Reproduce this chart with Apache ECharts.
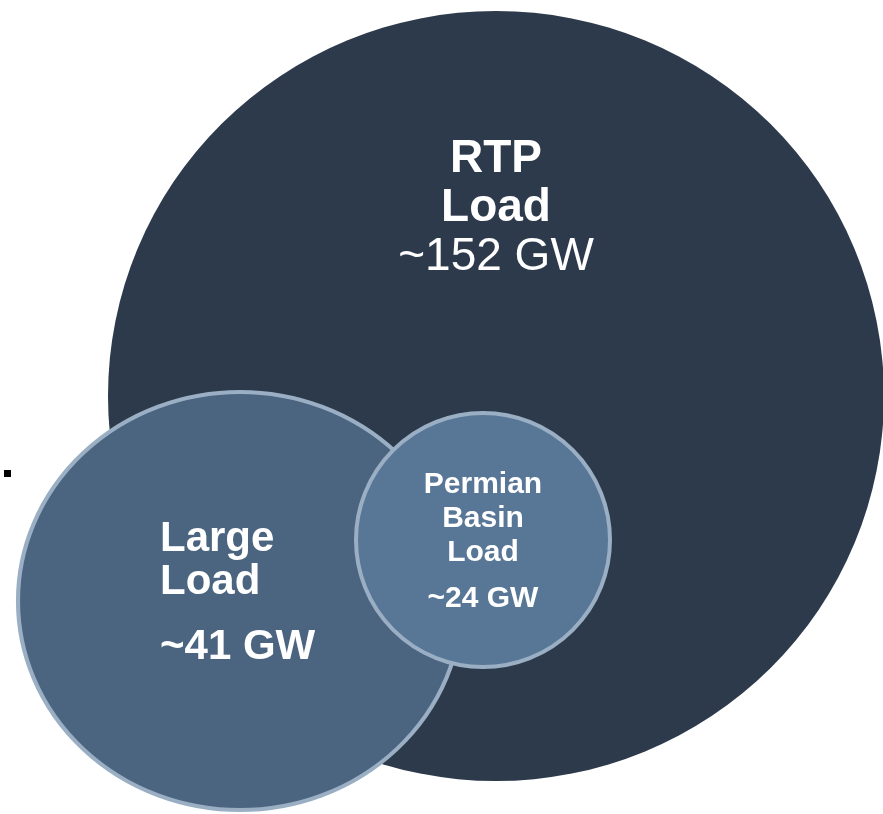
<!DOCTYPE html>
<html>
<head>
<meta charset="utf-8">
<script src="https://cdn.jsdelivr.net/npm/echarts@6/dist/echarts.min.js"></script>
<style>
html,body{margin:0;padding:0;background:#ffffff;}
#chart{width:883px;height:814px;}
</style>
</head>
<body>
<div id="chart"></div>
<script>
// ---- data ----
const names = ['RTP Load', 'Large Load', 'Permian Basin Load'];
const values = [152, 41, 24];
const unit = 'GW';

// ---- layout (pixel space of the 883x814 canvas) ----
const layout = {
  'RTP Load':           { cx: 496, cy: 396, size: [776, 770], fill: '#2c3a4b', border: 0 },
  'Large Load':         { cx: 240, cy: 601, size: [444, 418], fill: '#4b6580', border: 4 },
  'Permian Basin Load': { cx: 483, cy: 540, size: [254, 254], fill: '#587696', border: 4 }
};
const borderColor = '#9aaec4';
const FONT = '"Liberation Sans", Arial, Helvetica, sans-serif';

function labelFor(i) {
  const v = '~' + values[i] + ' ' + unit;
  if (i === 0) {
    return {
      show: true, position: 'inside', offset: [0, -188], align: 'center',
      formatter: '{b|RTP}\n{b|Load}\n{n|' + v + '}',
      rich: {
        b: { fontFamily: FONT, fontSize: 46, fontWeight: 'bold', color: '#fff', lineHeight: 49, align: 'center' },
        n: { fontFamily: FONT, fontSize: 46, color: '#fff', lineHeight: 49, align: 'center' }
      }
    };
  }
  if (i === 1) {
    return {
      show: true, position: 'inside', offset: [-80, -8], align: 'left',
      formatter: '{b|Large}\n{b|Load}\n{s| }\n{b|' + v + '}',
      rich: {
        b: { fontFamily: FONT, fontSize: 42, fontWeight: 'bold', color: '#fff', lineHeight: 43, align: 'left' },
        s: { fontSize: 10, lineHeight: 22 }
      }
    };
  }
  return {
    show: true, position: 'inside', offset: [0, 2], align: 'center',
    formatter: '{b|Permian}\n{b|Basin}\n{b|Load}\n{s| }\n{b|' + v + '}',
    rich: {
      b: { fontFamily: FONT, fontSize: 30, fontWeight: 'bold', color: '#fff', lineHeight: 34, align: 'center' },
      s: { fontSize: 8, lineHeight: 12 }
    }
  };
}

const series = names.map((n, i) => {
  const L = layout[n];
  return {
    type: 'scatter',
    name: n,
    z: 2 + i,
    silent: true,
    symbol: 'circle',
    symbolSize: L.size,
    itemStyle: { color: L.fill, borderColor: borderColor, borderWidth: L.border, opacity: 1 },
    label: labelFor(i),
    data: [{ name: n, value: [L.cx, L.cy, values[i]] }]
  };
});

const chart = echarts.init(document.getElementById('chart'), null, { renderer: 'canvas' });
chart.setOption({
  animation: false,
  backgroundColor: '#ffffff',
  grid: { left: 0, right: 0, top: 0, bottom: 0 },
  xAxis: { type: 'value', min: 0, max: 883, show: false },
  yAxis: { type: 'value', min: 0, max: 814, inverse: true, show: false },
  graphic: [
    { type: 'rect', z: 10, shape: { x: 4, y: 470, width: 7, height: 7 }, style: { fill: '#000' } }
  ],
  series: series
});
</script>
</body>
</html>
